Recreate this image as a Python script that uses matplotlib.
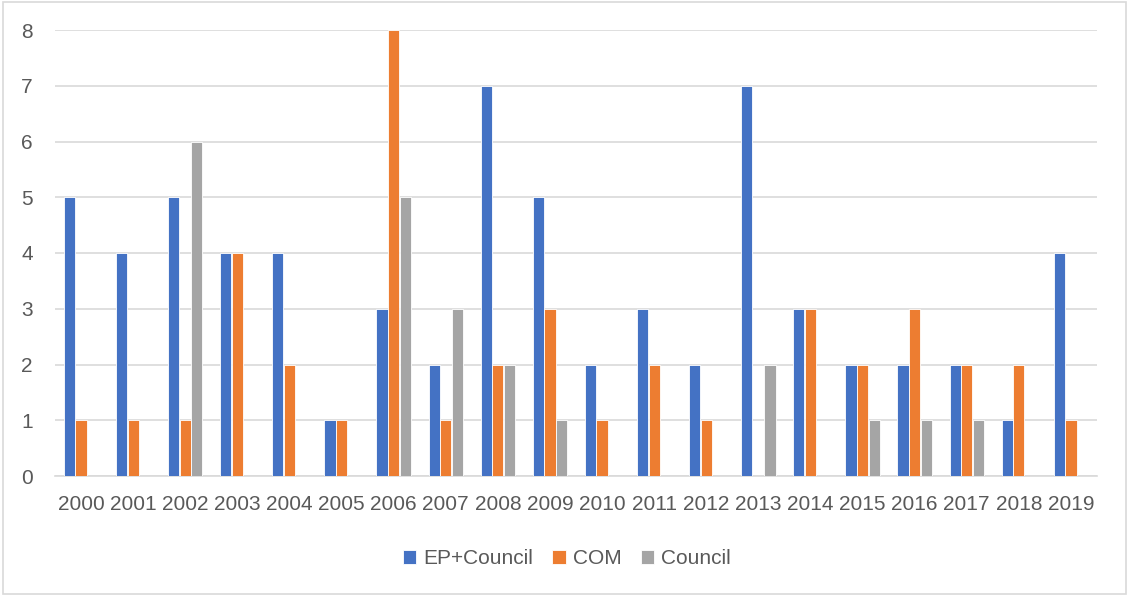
import numpy as np
import matplotlib
matplotlib.use("Agg")
import matplotlib.pyplot as plt
from matplotlib.patches import Rectangle

years = [str(y) for y in range(2000, 2020)]
ep_council = [5, 4, 5, 4, 4, 1, 3, 2, 7, 5, 2, 3, 2, 7, 3, 2, 2, 2, 1, 4]
com = [1, 1, 1, 4, 2, 1, 8, 1, 2, 3, 1, 2, 1, 0, 3, 2, 3, 2, 2, 1]
council = [0, 0, 6, 0, 0, 0, 5, 3, 2, 1, 0, 0, 0, 2, 0, 1, 1, 1, 0, 0]

series = [
    ("EP+Council", ep_council, "#4472C4"),
    ("COM", com, "#ED7D31"),
    ("Council", council, "#A5A5A5"),
]

plt.rcParams["font.family"] = ["Liberation Sans", "DejaVu Sans"]
text_color = "#595959"

fig = plt.figure(figsize=(11.33, 5.97), dpi=100)
ax = fig.add_axes([55 / 1133, 1 - 476 / 597, (1097 - 55) / 1133, (476 - 30) / 597])

# outer chart frame
fig.patches.append(Rectangle((3 / 1133, 3 / 597), 1123 / 1133, 592 / 597,
                             transform=fig.transFigure, fill=False,
                             edgecolor="#D9D9D9", linewidth=1.2))

x = np.arange(len(years))
step = 0.222
width = 0.215
for i, (name, vals, color) in enumerate(series):
    ax.bar(x + (i - 1) * step, vals, width, color=color, label=name,
           edgecolor="white", linewidth=0.6, zorder=3)

ax.set_xlim(-0.5, len(years) - 0.5)
ax.set_ylim(0, 8)
ax.set_yticks(range(0, 9))
ax.set_xticks(x)
ax.set_xticklabels(years)
ax.yaxis.grid(True, color="#D9D9D9", linewidth=1.2, zorder=0)
ax.set_axisbelow(True)
for side in ["top", "right", "left"]:
    ax.spines[side].set_visible(False)
ax.spines["bottom"].set_color("#D9D9D9")
ax.spines["bottom"].set_linewidth(1.2)
ax.tick_params(axis="both", length=0, labelsize=15, colors=text_color)
ax.tick_params(axis="x", pad=14)
ax.tick_params(axis="y", pad=16)

leg = fig.legend(loc="center", bbox_to_anchor=(567 / 1133, 1 - 559 / 597),
                 ncol=3, frameon=False, fontsize=15, handlelength=0.65,
                 handleheight=0.65, handletextpad=0.35, columnspacing=0.9)
for t in leg.get_texts():
    t.set_color(text_color)

fig.savefig("out.png", dpi=100)
